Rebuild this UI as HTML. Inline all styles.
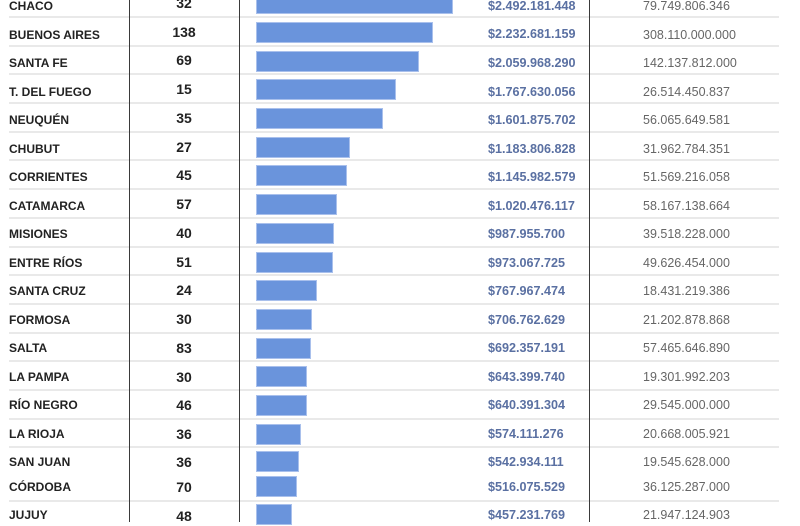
<!DOCTYPE html>
<html>
<head>
<meta charset="utf-8">
<style>
html,body{margin:0;padding:0;background:#fff;}
body{width:800px;height:522px;position:relative;overflow:hidden;font-family:"Liberation Sans",Arial,sans-serif;}
.h{position:absolute;left:9px;width:770px;height:2px;background:#e9e9e9;}
.v{position:absolute;top:0;width:1px;height:522px;background:#3a3a3a;}
.b{position:absolute;left:256px;height:21px;background:#6a94dc;border:1px solid #a9c0ec;box-sizing:border-box;}
.t{position:absolute;height:20px;line-height:20px;white-space:nowrap;}
.n{left:9px;font-size:12px;font-weight:bold;color:#222;}
.c{left:129px;width:110px;text-align:center;font-size:14px;font-weight:bold;color:#222;}
.d{left:488px;font-size:12.6px;font-weight:bold;color:#5a70a2;}
.r{left:643px;font-size:12.5px;color:#666;}
</style>
</head>
<body>
<!-- horizontal separators -->
<div class="h" style="top:16px"></div>
<div class="h" style="top:45px"></div>
<div class="h" style="top:73px"></div>
<div class="h" style="top:102px"></div>
<div class="h" style="top:131px"></div>
<div class="h" style="top:159px"></div>
<div class="h" style="top:188px"></div>
<div class="h" style="top:217px"></div>
<div class="h" style="top:246px"></div>
<div class="h" style="top:274px"></div>
<div class="h" style="top:303px"></div>
<div class="h" style="top:332px"></div>
<div class="h" style="top:360px"></div>
<div class="h" style="top:389px"></div>
<div class="h" style="top:418px"></div>
<div class="h" style="top:446px"></div>
<div class="h" style="top:500px"></div>

<!-- bars -->
<div class="b" style="top:-7px;width:197px"></div>
<div class="b" style="top:22px;width:177px"></div>
<div class="b" style="top:51px;width:163px"></div>
<div class="b" style="top:79px;width:140px"></div>
<div class="b" style="top:108px;width:127px"></div>
<div class="b" style="top:137px;width:94px"></div>
<div class="b" style="top:165px;width:91px"></div>
<div class="b" style="top:194px;width:81px"></div>
<div class="b" style="top:223px;width:78px"></div>
<div class="b" style="top:252px;width:77px"></div>
<div class="b" style="top:280px;width:61px"></div>
<div class="b" style="top:309px;width:56px"></div>
<div class="b" style="top:338px;width:55px"></div>
<div class="b" style="top:366px;width:51px"></div>
<div class="b" style="top:395px;width:51px"></div>
<div class="b" style="top:424px;width:45px"></div>
<div class="b" style="top:451px;width:43px"></div>
<div class="b" style="top:476px;width:41px"></div>
<div class="b" style="top:504px;width:36px"></div>

<!-- vertical lines -->
<div class="v" style="left:129px"></div>
<div class="v" style="left:239px"></div>
<div class="v" style="left:589px"></div>

<div class="t n" style="top:-4px">CHACO</div>
<div class="t c" style="top:-7px">32</div>
<div class="t d" style="top:-4px">$2.492.181.448</div>
<div class="t r" style="top:-4px">79.749.806.346</div>

<div class="t n" style="top:25px">BUENOS AIRES</div>
<div class="t c" style="top:22px">138</div>
<div class="t d" style="top:24px">$2.232.681.159</div>
<div class="t r" style="top:25px">308.110.000.000</div>

<div class="t n" style="top:53px">SANTA FE</div>
<div class="t c" style="top:50px">69</div>
<div class="t d" style="top:53px">$2.059.968.290</div>
<div class="t r" style="top:53px">142.137.812.000</div>

<div class="t n" style="top:82px">T. DEL FUEGO</div>
<div class="t c" style="top:79px">15</div>
<div class="t d" style="top:82px">$1.767.630.056</div>
<div class="t r" style="top:82px">26.514.450.837</div>

<div class="t n" style="top:110px">NEUQUÉN</div>
<div class="t c" style="top:108px">35</div>
<div class="t d" style="top:110px">$1.601.875.702</div>
<div class="t r" style="top:110px">56.065.649.581</div>

<div class="t n" style="top:139px">CHUBUT</div>
<div class="t c" style="top:137px">27</div>
<div class="t d" style="top:139px">$1.183.806.828</div>
<div class="t r" style="top:139px">31.962.784.351</div>

<div class="t n" style="top:167px">CORRIENTES</div>
<div class="t c" style="top:165px">45</div>
<div class="t d" style="top:167px">$1.145.982.579</div>
<div class="t r" style="top:167px">51.569.216.058</div>

<div class="t n" style="top:196px">CATAMARCA</div>
<div class="t c" style="top:194px">57</div>
<div class="t d" style="top:196px">$1.020.476.117</div>
<div class="t r" style="top:196px">58.167.138.664</div>

<div class="t n" style="top:224px">MISIONES</div>
<div class="t c" style="top:223px">40</div>
<div class="t d" style="top:224px">$987.955.700</div>
<div class="t r" style="top:224px">39.518.228.000</div>

<div class="t n" style="top:253px">ENTRE RÍOS</div>
<div class="t c" style="top:252px">51</div>
<div class="t d" style="top:253px">$973.067.725</div>
<div class="t r" style="top:253px">49.626.454.000</div>

<div class="t n" style="top:281px">SANTA CRUZ</div>
<div class="t c" style="top:280px">24</div>
<div class="t d" style="top:281px">$767.967.474</div>
<div class="t r" style="top:281px">18.431.219.386</div>

<div class="t n" style="top:310px">FORMOSA</div>
<div class="t c" style="top:309px">30</div>
<div class="t d" style="top:310px">$706.762.629</div>
<div class="t r" style="top:310px">21.202.878.868</div>

<div class="t n" style="top:338px">SALTA</div>
<div class="t c" style="top:338px">83</div>
<div class="t d" style="top:338px">$692.357.191</div>
<div class="t r" style="top:338px">57.465.646.890</div>

<div class="t n" style="top:367px">LA PAMPA</div>
<div class="t c" style="top:367px">30</div>
<div class="t d" style="top:367px">$643.399.740</div>
<div class="t r" style="top:367px">19.301.992.203</div>

<div class="t n" style="top:395px">RÍO NEGRO</div>
<div class="t c" style="top:395px">46</div>
<div class="t d" style="top:395px">$640.391.304</div>
<div class="t r" style="top:395px">29.545.000.000</div>

<div class="t n" style="top:424px">LA RIOJA</div>
<div class="t c" style="top:424px">36</div>
<div class="t d" style="top:424px">$574.111.276</div>
<div class="t r" style="top:424px">20.668.005.921</div>

<div class="t n" style="top:452px">SAN JUAN</div>
<div class="t c" style="top:452px">36</div>
<div class="t d" style="top:452px">$542.934.111</div>
<div class="t r" style="top:452px">19.545.628.000</div>

<div class="t n" style="top:477px">CÓRDOBA</div>
<div class="t c" style="top:477px">70</div>
<div class="t d" style="top:477px">$516.075.529</div>
<div class="t r" style="top:477px">36.125.287.000</div>

<div class="t n" style="top:505px">JUJUY</div>
<div class="t c" style="top:506px">48</div>
<div class="t d" style="top:505px">$457.231.769</div>
<div class="t r" style="top:505px">21.947.124.903</div>
</body>
</html>
